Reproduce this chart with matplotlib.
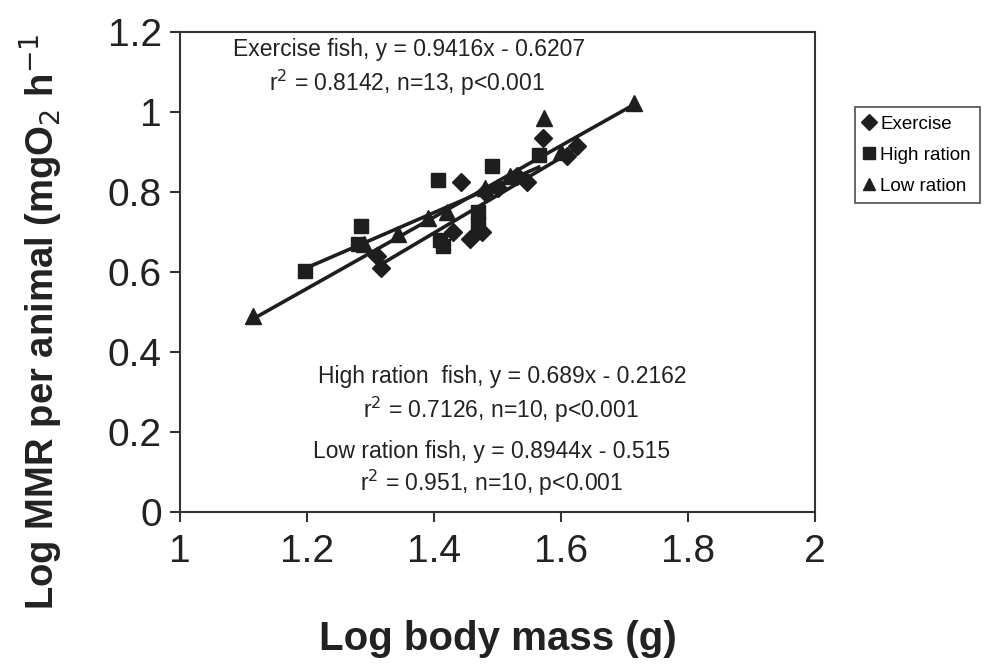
import matplotlib.pyplot as plt
import numpy as np

plt.rcParams['font.family'] = ['Liberation Sans', 'DejaVu Sans']

# data (log body mass, log MMR)
ex_x = [1.316, 1.310, 1.430, 1.457, 1.476, 1.442, 1.480, 1.500, 1.547, 1.571, 1.610, 1.625, 1.530]
ex_y = [0.610, 0.640, 0.700, 0.683, 0.700, 0.826, 0.800, 0.810, 0.826, 0.935, 0.890, 0.915, 0.840]

hi_x = [1.197, 1.285, 1.281, 1.406, 1.415, 1.410, 1.470, 1.470, 1.492, 1.565]
hi_y = [0.603, 0.716, 0.671, 0.829, 0.666, 0.680, 0.750, 0.720, 0.864, 0.892]

lo_x = [1.115, 1.290, 1.343, 1.390, 1.420, 1.480, 1.520, 1.573, 1.600, 1.715]
lo_y = [0.490, 0.670, 0.696, 0.735, 0.750, 0.810, 0.840, 0.985, 0.900, 1.023]

# regression fits given on the chart
fits = {'ex': (0.9416, -0.6207), 'hi': (0.689, -0.2162), 'lo': (0.8944, -0.515)}

col = '#1e1e1e'

fig = plt.figure(figsize=(9.99, 6.69), dpi=100)
ax = fig.add_axes([0.180, 0.235, 0.636, 0.717])

for key, xs in (('ex', ex_x), ('hi', hi_x), ('lo', lo_x)):
    m, b = fits[key]
    xx = np.array([min(xs), max(xs)])
    ax.plot(xx, m * xx + b, color=col, lw=2.6, zorder=2)

ax.plot(ex_x, ex_y, 'D', color=col, ms=9, ls='none', label='Exercise', zorder=3)
ax.plot(hi_x, hi_y, 's', color=col, ms=10, ls='none', label='High ration', zorder=3)
ax.plot(lo_x, lo_y, '^', color=col, ms=11, ls='none', label='Low ration', zorder=3)

ax.set_xlim(1, 2)
ax.set_ylim(0, 1.2)
ax.set_xticks([1, 1.2, 1.4, 1.6, 1.8, 2])
ax.set_xticklabels(['1', '1.2', '1.4', '1.6', '1.8', '2'])
ax.set_yticks([0, 0.2, 0.4, 0.6, 0.8, 1, 1.2])
ax.set_yticklabels(['0', '0.2', '0.4', '0.6', '0.8', '1', '1.2'])
ax.tick_params(direction='out', length=7, width=1.5, labelsize=28, color='#333333',
               labelcolor='#222222')
ax.tick_params(axis='x', pad=9)
ax.tick_params(axis='y', pad=6)
for s in ax.spines.values():
    s.set_linewidth(1.5)
    s.set_color('#333333')

ax.set_xlabel('Log body mass (g)', fontsize=29, fontweight='bold', color='#222222')
ax.xaxis.set_label_coords(0.5, -0.225)
fig.text(17 / 999, 1 - 610 / 669, 'Log MMR per animal (mgO$_2$ h$^{-1}$',
         rotation=90, ha='left', va='bottom', fontsize=27.5, fontweight='bold',
         color='#222222')

tk = dict(fontsize=16.5, ha='center', va='center', color='#222222')
ax.text(1.360, 1.156, 'Exercise fish, y = 0.9416x - 0.6207', **tk)
ax.text(1.358, 1.073, 'r$^2$ = 0.8142, n=13, p<0.001', **tk)
ax.text(1.508, 0.339, 'High ration  fish, y = 0.689x - 0.2162', **tk)
ax.text(1.505, 0.256, 'r$^2$ = 0.7126, n=10, p<0.001', **tk)
ax.text(1.491, 0.151, 'Low ration fish, y = 0.8944x - 0.515', **tk)
ax.text(1.491, 0.073, 'r$^2$ = 0.951, n=10, p<0.001', **tk)

leg = fig.legend(loc='upper left', bbox_to_anchor=(0.856, 0.840), fontsize=13.5,
                 frameon=True, fancybox=False, handlelength=0.6, handletextpad=0.3,
                 borderpad=0.45, labelspacing=0.75, markerscale=0.85, borderaxespad=0)
leg.get_frame().set_edgecolor('#333333')
leg.get_frame().set_linewidth(1.3)

fig.savefig('out.png', dpi=100)
